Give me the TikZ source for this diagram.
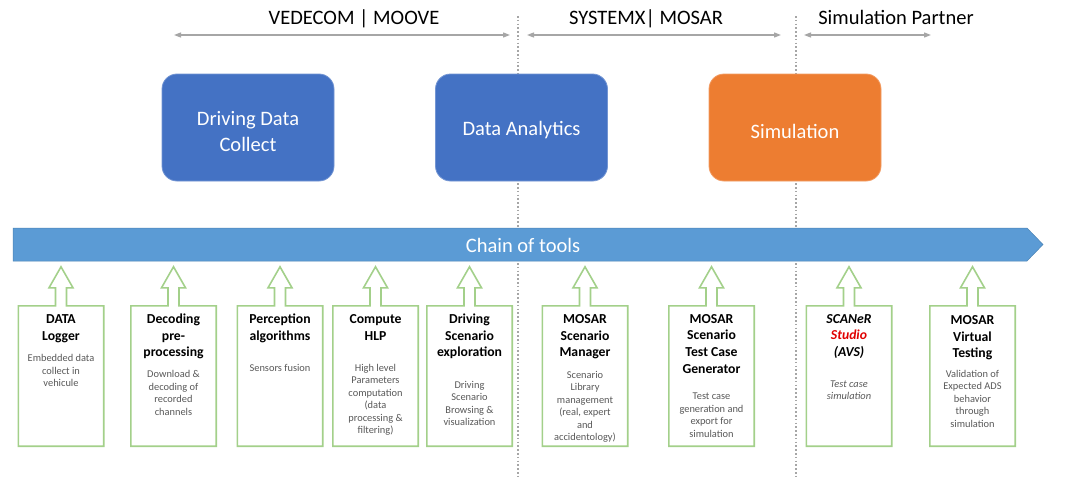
\documentclass[tikz,border=0pt]{standalone}
\usepackage{fontspec}
\setmainfont{Carlito}
\usetikzlibrary{arrows.meta,calc}
\definecolor{boxblue}{HTML}{4472C4}
\definecolor{simorange}{HTML}{ED7D31}
\definecolor{chainblue}{HTML}{5B9BD5}
\definecolor{toolgreen}{HTML}{A3D08A}
\definecolor{sepgray}{HTML}{A6A6A6}
\definecolor{descgray}{HTML}{595959}
\definecolor{studiored}{HTML}{E00000}
\newcommand\toolshape[1]{%
  \draw[toolline] (#1.south west) -- (#1.north west) -- ($(#1.north)+(-5.5,0)$) -- ++(0,-18) -- ++(-6.5,0)
    -- ($(#1.north)+(0,-39)$) -- ($(#1.north)+(12,-18)$) -- ++(-6.5,0) -- ($(#1.north)+(5.5,0)$)
    -- (#1.north east) -- (#1.south east) -- cycle;}
\begin{document}
\begin{tikzpicture}[x=1pt,y=-1pt,
  phase/.style={rounded corners=15pt, fill=boxblue, draw=boxblue!75!white, line width=0.8pt,
    minimum width=172pt, minimum height=107pt, inner sep=0pt},
  phasetext/.style={text=white, font=\fontsize{20.5}{26}\selectfont, align=center, inner sep=0pt},
  toolbox/.style={minimum width=85pt, minimum height=140pt, inner sep=0pt},
  toolline/.style={draw=toolgreen, line width=1.6pt, fill=white, line join=miter},
  tooltitle/.style={anchor=base, align=center, font=\bfseries\fontsize{13.7}{16.7}\selectfont, inner sep=0pt},
  tooldesc/.style={anchor=base, align=center, text=descgray, font=\fontsize{10.4}{12.5}\selectfont, inner sep=0pt},
  sep/.style={draw=sepgray, line width=1.8pt, dash pattern=on 1.6pt off 2.2pt},
  span/.style={draw=sepgray, line width=1.2pt, {Triangle[length=7pt,width=5pt]}-{Triangle[length=7pt,width=5pt]}},
  partner/.style={anchor=base, font=\fontsize{20.5}{24}\selectfont, inner sep=0pt}
]
\useasboundingbox (0,0) rectangle (1080,479);
\fill[white] (0,0) rectangle (1080,479);

% separators
\coordinate (s1t) at (518,16); \coordinate (s1b) at (518,479);
\coordinate (s2t) at (796,16); \coordinate (s2b) at (796,479);
\draw[sep] (s1t) -- (s1b);
\draw[sep] (s2t) -- (s2b);

% partner labels
\node[partner] (p1) at (354,24) {VEDECOM | MOOVE};
\node[partner] (p2) at (646,24) {SYSTEMX| MOSAR};
\node[partner] (p3) at (896,24) {Simulation Partner};
\coordinate (a1l) at (174,35); \coordinate (a1r) at (510,35);
\coordinate (a2l) at (527,35); \coordinate (a2r) at (781,35);
\coordinate (a3l) at (804,35); \coordinate (a3r) at (931,35);
\draw[span] (a1l) -- (a1r);
\draw[span] (a2l) -- (a2r);
\draw[span] (a3l) -- (a3r);

% phases
\node[phase] (collect) at (248,127.5) {};
\node[phasetext] (collecttext) at (248,132) {Driving Data\\Collect};
\node[phase] (analytics) at (521.5,127.5) {};
\node[phasetext] (analyticstext) at (521.5,130.5) {Data Analytics};
\node[phase, fill=simorange, draw=simorange!75!white] (simulation) at (795,127.5) {};
\node[phasetext] (simulationtext) at (795,131) {Simulation};

% chain of tools
\coordinate (c1) at (13,228); \coordinate (c2) at (1027,228); \coordinate (c3) at (1043,244.5);
\coordinate (c4) at (1027,261); \coordinate (c5) at (13,261);
\draw[fill=chainblue, draw=chainblue!85!black, line width=0.5pt] (c1) -- (c2) -- (c3) -- (c4) -- (c5) -- cycle;
\node[anchor=base, text=white, font=\fontsize{20.5}{24}\selectfont, inner sep=0pt] (chain) at (523,252) {Chain of tools};

% tool boxes
\foreach \n/\x in {b1/61, b2/173.5, b3/280, b4/375.5, b5/469.5, b6/585, b7/711.5, b8/849, b9/972.5}{
  \node[toolbox] (\n) at (\x,376) {};
  \toolshape{\n}
}

% anchor=base is the baseline of the last line
\node[tooltitle] (t1) at (61,340.2) {DATA\\Logger};
\node[tooldesc] (d1) at (61,386.5) {Embedded data\\collect in\\vehicule};

\node[tooltitle] (t2) at (173.5,356.9) {Decoding\\pre-\\processing};
\node[tooldesc] (d2) at (173.5,415.2) {Download \&\\decoding of\\recorded\\channels};

\node[tooltitle] (t3) at (280,340.2) {Perception\\algorithms};
\node[tooldesc] (d3) at (280,371) {Sensors fusion};

\node[tooltitle] (t4) at (375.5,340.2) {Compute\\HLP};
\node[tooldesc] (d4) at (375.5,433.9) {High level\\Parameters\\computation\\(data\\processing \&\\filtering)};

\node[tooltitle] (t5) at (469.5,356.9) {Driving\\Scenario\\exploration};
\node[tooldesc] (d5) at (469.5,425.5) {Driving\\Scenario\\Browsing \&\\visualization};

\node[tooltitle] (t6) at (585,356.9) {MOSAR\\Scenario\\Manager};
\node[tooldesc] (d6) at (585,440.5) {Scenario\\Library\\management\\(real, expert\\and\\accidentology)};

\node[tooltitle] (t7) at (711.5,373.1) {MOSAR\\Scenario\\Test Case\\Generator};
\node[tooldesc] (d7) at (711.5,437.2) {Test case\\generation and\\export for\\simulation};

\node[tooltitle, font=\bfseries\itshape\fontsize{13.7}{16.7}\selectfont] (t8) at (849,356.4) {SCANeR\\\textcolor{studiored}{Studio}\\(AVS)};
\node[tooldesc, font=\itshape\fontsize{10.4}{12.5}\selectfont] (d8) at (849,399.5) {Test case\\simulation};

\node[tooltitle] (t9) at (972.5,357.9) {MOSAR\\Virtual\\Testing};
\node[tooldesc] (d9) at (972.5,427) {Validation of\\Expected ADS\\behavior\\through\\simulation};
\end{tikzpicture}
\end{document}
